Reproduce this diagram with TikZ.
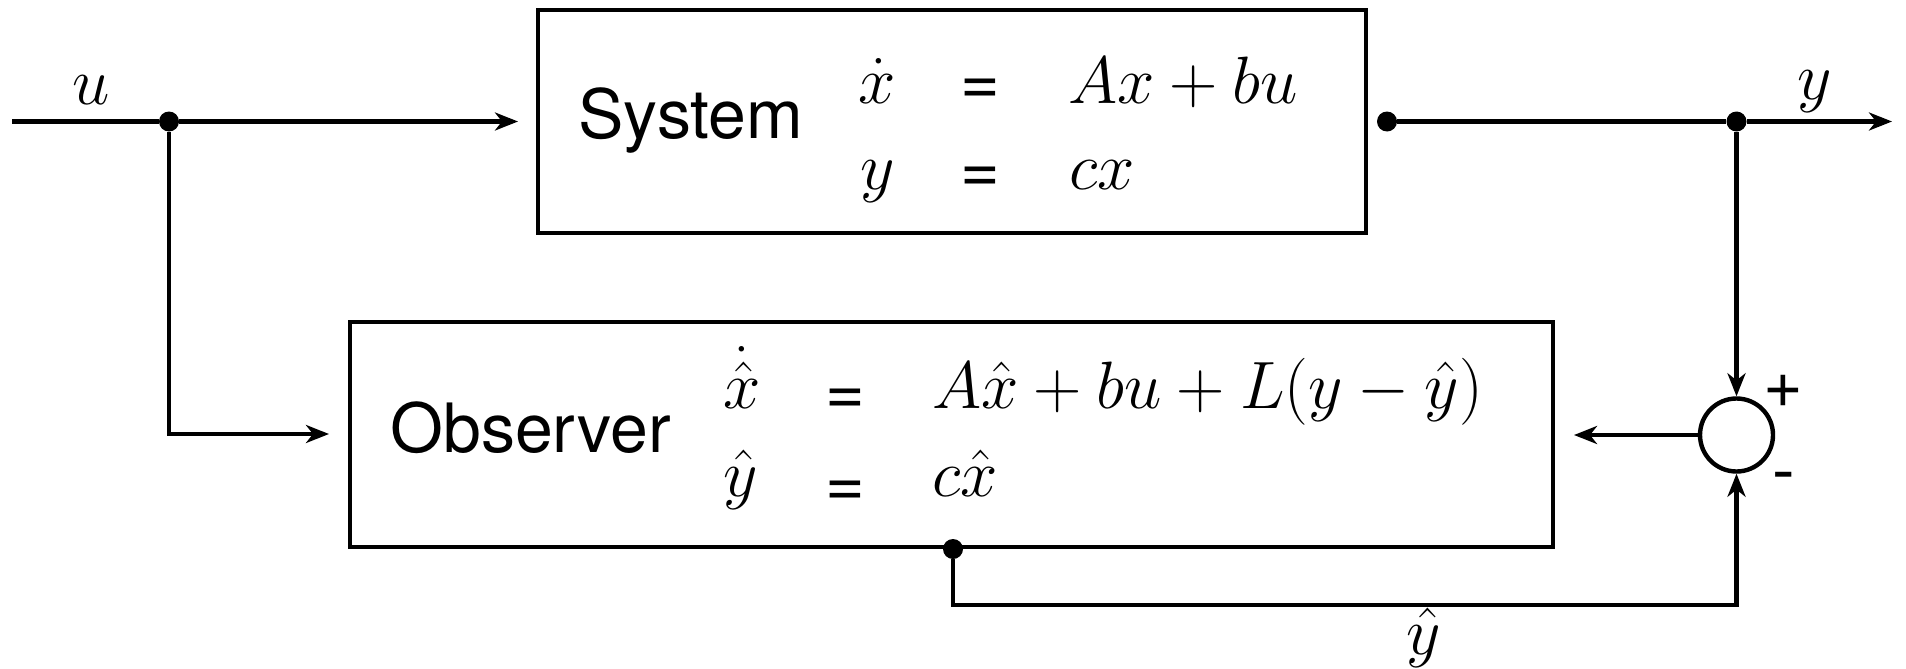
\RequirePackage{fix-cm}
\documentclass[tikz,border=0pt]{standalone}
\usepackage{fontspec}
\newfontfamily\hv{TeX Gyre Heros}
\usetikzlibrary{arrows.meta}
\begin{document}
\begin{tikzpicture}[x=0.5pt,y=-0.5pt,
  wire/.style={line width=2.2pt},
  arr/.style={wire,-{Stealth[length=11.5pt,width=9pt,inset=3.5pt]}},
  blk/.style={draw,line width=2.3pt,rectangle,inner sep=0pt},
  dot/.style={circle,fill,inner sep=0pt,minimum size=10pt},
  mth/.style={inner sep=0pt,anchor=base west,font=\fontsize{33.5}{40}\selectfont},
  lbl/.style={inner sep=0pt,anchor=base west,font=\hv\fontsize{34}{40}\selectfont},
  eqs/.style={lbl,anchor=base},
]
\useasboundingbox (0,0) rectangle (1906,669);

% blocks
\node[blk,minimum width=414pt,minimum height=111.5pt] (sys) at (952,121.5) {};
\node[blk,minimum width=601.5pt,minimum height=112.5pt] (obs) at (951.5,434.5) {};
\node[draw,circle,line width=2.2pt,inner sep=0pt,minimum size=36.5pt] (sum) at (1736.5,435) {};

% system text
\node[lbl] (systxt) at (578,138) {System};
\node[mth] (s1l) at (858,103) {$\dot{x}$};
\node[eqs] (s1e) at (980,104) {=};
\node[mth] (s1r) at (1068,103) {$Ax+bu$};
\node[mth] (s2l) at (860,189) {$y$};
\node[eqs] (s2e) at (980,192) {=};
\node[mth] (s2r) at (1069,189) {$cx$};

% observer text
\node[lbl] (obstxt) at (390,452) {Observer};
\node[mth] (o1l) at (723,408) {$\dot{\hat{x}}$};
\node[eqs] (o1e) at (845,414) {=};
\node[mth] (o1r) at (932,408) {$A\hat{x}+bu+L(y-\hat{y})$};
\node[mth] (o2l) at (723,496) {$\hat{y}$};
\node[eqs] (o2e) at (845,506) {=};
\node[mth] (o2r) at (932,496) {$c\hat{x}$};

% signs
\node[eqs] (plus) at (1783,407) {+};
\node[eqs] (minus) at (1783.5,493) {-};

% labels
\node[mth,anchor=base] (ulbl) at (91,104) {$u$};
\node[mth,anchor=base] (ylbl) at (1815,99) {$y$};
\node[mth,anchor=base] (yhlbl) at (1424,654) {$\hat{y}$};

% dots
\node[dot] (d1) at (169,121.5) {};
\node[dot] (dout) at (1387,121.5) {};
\node[dot] (d2) at (1736.5,121.5) {};
\node[dot] (d3) at (953,549) {};

% coordinates
\coordinate (uin) at (12,121.5);
\coordinate (sysin) at (518,121.5);
\coordinate (obsin) at (329,434);
\coordinate (obsin2) at (1574,435);
\coordinate (yout) at (1892,121.5);
\coordinate (b2) at (1736.5,605);

% connectors
\draw[wire] (uin) -- (d1);
\draw[arr] (d1) -- (sysin);
\draw[arr] (d1) |- (obsin);
\draw[wire] (dout) -- (d2);
\draw[arr] (d2) -- (yout);
\draw[arr] (d2) -- (sum.north);
\draw[arr] (sum.west) -- (obsin2);
\draw[arr] (d3) |- (b2) -- (sum.south);
\end{tikzpicture}
\end{document}
